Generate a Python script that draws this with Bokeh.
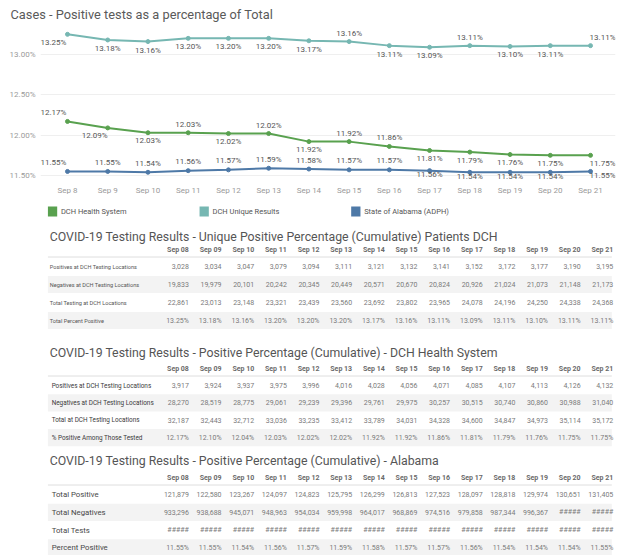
from bokeh.plotting import figure
from bokeh.layouts import column
from bokeh.models import ColumnDataSource, FixedTicker, PrintfTickFormatter, Range1d
from bokeh.embed import file_html
from bokeh.resources import INLINE
from bokeh.core.properties import value

# ---------------- data ----------------
chart_dates = ["Sep 8", "Sep 9", "Sep 10", "Sep 11", "Sep 12", "Sep 13", "Sep 14",
               "Sep 15", "Sep 16", "Sep 17", "Sep 18", "Sep 19", "Sep 20", "Sep 21"]
table_dates = ["Sep 08", "Sep 09", "Sep 10", "Sep 11", "Sep 12", "Sep 13", "Sep 14",
               "Sep 15", "Sep 16", "Sep 17", "Sep 18", "Sep 19", "Sep 20", "Sep 21"]

series_names = ["DCH Health System", "DCH Unique Results", "State of Alabama (ADPH)"]
series_colors = ["#59a14f", "#76b7b2", "#4e79a7"]

unique_pct = [13.25, 13.18, 13.16, 13.20, 13.20, 13.20, 13.17, 13.16, 13.11, 13.09, 13.11, 13.10, 13.11, 13.11]
health_chart_pct = [12.17, 12.09, 12.03, 12.03, 12.02, 12.02, 11.92, 11.92, 11.86, 11.81, 11.79, 11.76, 11.75, 11.75]
alabama_pct = [11.55, 11.55, 11.54, 11.56, 11.57, 11.59, 11.58, 11.57, 11.57, 11.56, 11.54, 11.54, 11.54, 11.55]

chart_title = "Cases - Positive tests as a percentage of Total"
y_ticks = [11.5, 12.0, 12.5, 13.0]

t1_title = "COVID-19 Testing Results - Unique Positive Percentage (Cumulative) Patients DCH"
t1_rows = ["Positives at DCH Testing Locations", "Negatives at DCH Testing Locations",
           "Total Testing at DCH Locations", "Total Percent Positive"]
unique_positives = [3028, 3034, 3047, 3079, 3094, 3111, 3121, 3132, 3141, 3152, 3172, 3177, 3190, 3195]
unique_negatives = [19833, 19979, 20101, 20242, 20345, 20449, 20571, 20670, 20824, 20926, 21024, 21073, 21148, 21173]
unique_totals = [22861, 23013, 23148, 23321, 23439, 23560, 23692, 23802, 23965, 24078, 24196, 24250, 24338, 24368]

t2_title = "COVID-19 Testing Results - Positive Percentage (Cumulative) - DCH Health System"
t2_rows = ["Positives at DCH Testing Locations", "Negatives at DCH Testing Locations",
           "Total at DCH Testing Locations", "% Positive Among Those Tested"]
health_positives = [3917, 3924, 3937, 3975, 3996, 4016, 4028, 4056, 4071, 4085, 4107, 4113, 4126, 4132]
health_negatives = [28270, 28519, 28775, 29061, 29239, 29396, 29761, 29975, 30257, 30515, 30740, 30860, 30988, 31040]
health_totals = [32187, 32443, 32712, 33036, 33235, 33412, 33789, 34031, 34328, 34600, 34847, 34973, 35114, 35172]
health_pct = [12.17, 12.10, 12.04, 12.03, 12.02, 12.02, 11.92, 11.92, 11.86, 11.81, 11.79, 11.76, 11.75, 11.75]

t3_title = "COVID-19 Testing Results - Positive Percentage (Cumulative) - Alabama"
t3_rows = ["Total Positive", "Total Negatives", "Total Tests", "Percent Positive"]
alabama_positives = [121879, 122580, 123267, 124097, 124823, 125795, 126299, 126813, 127523, 128097, 128818, 129974, 130651, 131405]
# None = value too wide for its cell (shown as ##### in the source)
alabama_negatives = [933296, 938688, 945071, 948963, 954034, 959998, 964017, 968869, 974516, 979858, 987344, 996367, None, None]
alabama_total_tests = [None] * 14

# ---------------- styles / layout ----------------
FONT = "Roboto"
W = 620
unique_label_pos = "bbbbbbbabbabba"
health_label_pos = "abbababaabbbbb"
alabama_label_pos = "aaaaaaaaabbbbb"
unique_label_dx = [-14] + [0] * 12 + [12]
health_label_dx = [-14, -13] + [0] * 11 + [12]
alabama_label_dx = [-14] + [0] * 12 + [12]


def fmt_count(v):
    return "#####" if v is None else f"{v:,}"


def fmt_pct(v):
    return f"{v:.2f}%"


# ---------------- chart ----------------
p = figure(width=W, height=200, x_range=Range1d(-0.671, 13.621), y_range=Range1d(11.4256, 13.3595),
           output_backend="svg", toolbar_location=None,
           min_border_left=40, min_border_right=5, min_border_top=25, min_border_bottom=19)
p.title.text = chart_title
p.title.text_font = FONT
p.title.text_font_size = "12.8px"
p.title.text_color = "#5a5a5a"
p.title.text_font_style = "normal"
p.title.align = "left"
p.title.offset = -30
p.title.standoff = 7
p.outline_line_color = None
p.xgrid.visible = False
p.ygrid.grid_line_color = "#efefef"
p.ygrid.ticker = FixedTicker(ticks=y_ticks)

p.xaxis.ticker = FixedTicker(ticks=list(range(len(chart_dates))))
p.xaxis.major_label_overrides = {i: d for i, d in enumerate(chart_dates)}
p.yaxis.ticker = FixedTicker(ticks=y_ticks)
p.yaxis.formatter = PrintfTickFormatter(format="%.2f%%")
for ax in (p.xaxis, p.yaxis):
    ax.axis_line_color = None
    ax.major_tick_line_color = None
    ax.minor_tick_line_color = None
    ax.major_tick_out = 0
    ax.major_tick_in = 0
    ax.major_label_text_font = FONT
    ax.major_label_text_font_size = "8px"
    ax.major_label_text_color = "#9a9a9a"
p.xaxis.major_label_standoff = 4
p.yaxis.major_label_standoff = 5

x_idx = list(range(len(chart_dates)))
chart_series = [
    (unique_pct, series_colors[1], unique_label_pos, unique_label_dx, (-8.5, 8.5)),
    (health_chart_pct, series_colors[0], health_label_pos, health_label_dx, (-8.5, 8)),
    (alabama_pct, series_colors[2], alabama_label_pos, alabama_label_dx, (-9, 4)),
]
for vals, color, pos, dx, (up, down) in chart_series:
    src = ColumnDataSource(dict(
        x=x_idx, y=vals, label=[fmt_pct(v) for v in vals],
        dx=dx, dy=[up if c == "a" else down for c in pos]))
    p.line("x", "y", source=src, line_color=color, line_width=2)
    p.scatter("x", "y", source=src, size=4, color=color)
    p.text("x", "y", text="label", source=src, x_offset="dx", y_offset="dy",
           text_align="center", text_baseline="middle", text_font=value(FONT),
           text_font_size="8px", text_color="#555555")

# ---------------- legend ----------------
LH = 24
lg = figure(width=W, height=LH, x_range=Range1d(0, W), y_range=Range1d(LH, 0),
            output_backend="svg", toolbar_location=None, min_border=0,
            x_axis_location=None, y_axis_location=None)
lg.grid.visible = False
lg.outline_line_color = None
LEG_X0, LEG_STEP, LEG_Y, SW = 8, 163.5, 11, 10
leg_left = [LEG_X0 + i * LEG_STEP for i in range(len(series_names))]
lg.quad(left=leg_left, right=[x + SW for x in leg_left], top=[LEG_Y - SW / 2] * 3,
        bottom=[LEG_Y + SW / 2] * 3, fill_color=series_colors, line_color=None)
lg.text(x=[x + SW + 4 for x in leg_left], y=[LEG_Y] * 3, text=series_names,
        text_align="left", text_baseline="middle", text_font=value(FONT),
        text_font_size="7.5px", text_color="#555555")

# ---------------- tables ----------------
TH = 331
tp = figure(width=W, height=TH, x_range=Range1d(0, W), y_range=Range1d(TH, 0),
            output_backend="svg", toolbar_location=None, min_border=0,
            x_axis_location=None, y_axis_location=None)
tp.grid.visible = False
tp.outline_line_color = None

COL0 = 160.0      # right edge of first date column
COL_STEP = 35.2
TITLE_Y = [12, 128, 236]
HEADER_DY = [13, 16, 17]
ROW0_DY = [30, 33, 34]
ROW_PITCH = [18, 17.4, 17.8]
LABEL_X = [10, 12, 12]
LABEL_SIZE = ["5.6px", "6.4px", "7.8px"]
LABEL_COLOR = ["#555555", "#3a3a3a", "#474747"]
BAND_L, BAND_R, BAND_H = 8, 616, 8.6

tables = [
    (t1_title, t1_rows, [unique_positives, unique_negatives, unique_totals], unique_pct),
    (t2_title, t2_rows, [health_positives, health_negatives, health_totals], health_pct),
    (t3_title, t3_rows, [alabama_positives, alabama_negatives, alabama_total_tests], alabama_pct),
]
col_x = [COL0 + i * COL_STEP for i in range(len(table_dates))]

for t, (title, rows, counts, pcts) in enumerate(tables):
    ty = TITLE_Y[t]
    hy = ty + HEADER_DY[t]
    row_y = [ty + ROW0_DY[t] + k * ROW_PITCH[t] for k in range(len(rows))]
    band_y = [row_y[k] for k in range(len(rows)) if k % 2 == 1]
    tp.quad(left=BAND_L, right=BAND_R, top=[y - BAND_H for y in band_y],
            bottom=[y + BAND_H for y in band_y], fill_color="#f3f3f3", line_color=None)
    tp.segment(x0=[BAND_L], y0=[hy + 7.5], x1=[BAND_R], y1=[hy + 7.5],
               line_color="#dedede", line_width=1)
    tp.text(x=[10], y=[ty], text=[title], text_align="left", text_baseline="middle",
            text_font=value(FONT), text_font_size="12.3px", text_color="#555555")
    tp.text(x=col_x, y=[hy] * len(col_x), text=table_dates, text_align="right",
            text_baseline="middle", text_font=value(FONT), text_font_size="7px",
            text_font_style="bold", text_color="#6a6a6a")
    tp.text(x=[LABEL_X[t]] * len(rows), y=row_y, text=rows, text_align="left",
            text_baseline="middle", text_font=value(FONT), text_font_size=LABEL_SIZE[t],
            text_color=LABEL_COLOR[t])
    cx, cy, ct = [], [], []
    for k, series in enumerate(counts + [pcts]):
        for i, v in enumerate(series):
            cx.append(col_x[i])
            cy.append(row_y[k])
            ct.append(fmt_pct(v) if k == len(counts) else fmt_count(v))
    tp.text(x=cx, y=cy, text=ct, text_align="right", text_baseline="middle",
            text_font=value(FONT), text_font_size="7px", text_color="#7a7a7a")

layout = column(p, lg, tp, spacing=0)
open("out.html", "w").write(file_html(layout, INLINE))
